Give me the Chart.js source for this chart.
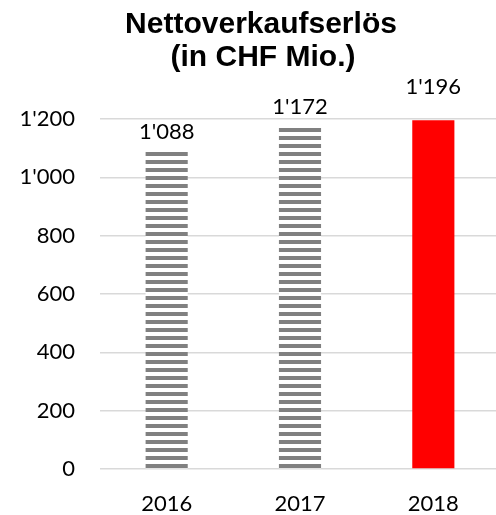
<!DOCTYPE html>
<html>
<head>
<meta charset="utf-8">
<script src="https://cdn.jsdelivr.net/npm/chart.js@4/dist/chart.umd.min.js"></script>
<style>
  html, body { margin: 0; padding: 0; background: #fff; overflow: hidden; }
  #wrap { width: 496px; height: 515px; overflow: hidden; }
</style>
</head>
<body>
<div id="wrap"><canvas id="c" width="500" height="515"></canvas></div>
<script>
const categories = ['2016', '2017', '2018'];
const revenue = [1088, 1172, 1196];
const titleLines = ['Nettoverkaufserlös', '(in CHF Mio.)'];
const yTicks = [0, 200, 400, 600, 800, 1000, 1200];

function fmt(v) {
  const s = String(Math.round(v));
  return s.replace(/\B(?=(\d{3})+(?!\d))/g, "'");
}

function stripePattern() {
  const p = document.createElement('canvas');
  p.width = 8; p.height = 8;
  const g = p.getContext('2d');
  g.fillStyle = '#ffffff';
  g.fillRect(0, 0, 8, 8);
  g.fillStyle = '#808080';
  g.fillRect(0, 0, 8, 4);
  return document.getElementById('c').getContext('2d').createPattern(p, 'repeat');
}
const stripes = stripePattern();

const titlePlugin = {
  id: 'customTitle',
  afterDraw(chart) {
    const ctx = chart.ctx;
    ctx.save();
    ctx.fillStyle = '#000';
    ctx.font = 'bold 30px "Liberation Sans", Arial, sans-serif';
    ctx.textAlign = 'center';
    ctx.textBaseline = 'alphabetic';
    ctx.fillText(titleLines[0], 261, 33);
    ctx.fillText(titleLines[1], 263, 66);
    ctx.restore();
  }
};

const labelPlugin = {
  id: 'valueLabels',
  afterDatasetsDraw(chart, args, opts) {
    const ctx = chart.ctx;
    const meta = chart.getDatasetMeta(0);
    ctx.save();
    ctx.fillStyle = '#000';
    ctx.font = '22px Lato, sans-serif';
    ctx.textAlign = 'center';
    ctx.textBaseline = 'middle';
    meta.data.forEach((bar, i) => {
      const off = opts.offsets[i];
      ctx.fillText(fmt(revenue[i]), bar.x, bar.y - off);
    });
    ctx.restore();
  }
};

new Chart(document.getElementById('c'), {
  type: 'bar',
  data: {
    labels: categories,
    datasets: [{
      data: revenue,
      backgroundColor: [stripes, stripes, '#ff0000'],
      borderWidth: 0,
      barPercentage: 0.316,
      categoryPercentage: 1.0
    }]
  },
  options: {
    responsive: false,
    animation: false,
    devicePixelRatio: 1,
    layout: { padding: { top: 119, left: 0, right: 0, bottom: 0 } },
    plugins: {
      legend: { display: false },
      title: { display: false },
      tooltip: { enabled: false },
      valueLabels: { offsets: [20, 20, 33] }
    },
    scales: {
      x: {
        grid: { display: false, drawTicks: false },
        border: { display: false },
        ticks: {
          color: '#000',
          font: { family: 'Lato', size: 22 },
          padding: 22
        },
        afterFit(scale) { scale.height = 46; }
      },
      y: {
        min: 0,
        max: 1200,
        afterBuildTicks(scale) { scale.ticks = yTicks.map(v => ({ value: v })); },
        grid: { color: '#d9d9d9', lineWidth: 1.5, drawTicks: false },
        border: { display: false },
        ticks: {
          color: '#000',
          font: { family: 'Lato', size: 22 },
          padding: 25,
          callback: (v) => fmt(v)
        },
        afterFit(scale) { scale.width = 100; }
      }
    }
  },
  plugins: [titlePlugin, labelPlugin]
});
</script>
</body>
</html>
